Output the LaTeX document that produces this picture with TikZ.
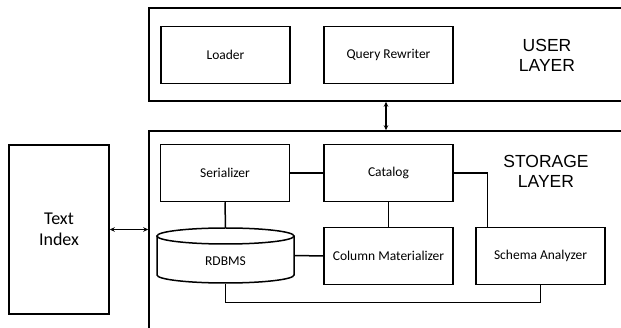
\documentclass[tikz,border=0pt]{standalone}
\usepackage{fontspec}
\setmainfont{Carlito}
\newfontfamily\layerfont{Liberation Sans}
\usetikzlibrary{arrows.meta}

\begin{document}
\begin{tikzpicture}[
    x=1pt, y=-1pt,
    line width=1.5pt,
    >={Stealth[length=5pt,width=4.5pt]},
    layer/.style={draw, inner sep=0pt},
    blk/.style={draw, inner sep=2pt, minimum width=129pt, minimum height=57pt,
                font=\fontsize{13.5}{15}\selectfont},
    lbl/.style={align=center, font=\layerfont\fontsize{17.5}{20}\selectfont},
  ]
  \clip (0,0) rectangle (621,328);

  %% ---- the two layers --------------------------------------------------
  \node[layer, minimum width=474pt, minimum height=93pt] (user)  at (386,54.5) {};
  \node[layer, minimum width=474pt, minimum height=220pt] (store) at (386,241) {};
  \node[lbl] (ul) at (547,55)  {USER\\LAYER};
  \node[lbl] (sl) at (546,171) {STORAGE\\LAYER};

  %% ---- user layer boxes ------------------------------------------------
  \node[blk] (ldr) at (225.5,55) {Loader};
  \node[blk] (qrw) at (388.5,55) {Query Rewriter};

  %% ---- storage layer boxes ---------------------------------------------
  \node[blk] (ser) at (225,173)   {Serializer};
  \node[blk] (cat) at (388.5,173) {Catalog};
  \node[blk] (col) at (388.5,256) {Column Materializer};
  \node[blk] (sch) at (540.5,256) {Schema Analyzer};
  \node[minimum width=137pt, minimum height=55pt, inner sep=0pt,
        label={[yshift=-6pt, font=\fontsize{13.5}{15}\selectfont]center:RDBMS}]
        (rdb) at (225.5,255.5) {};
  \draw (225.5,236) ellipse [x radius=68.5, y radius=8];
  \draw (157,236) -- (157,275)
        arc [start angle=180, end angle=0, x radius=68.5, y radius=8]
        -- (294,236);

  %% ---- text index ------------------------------------------------------
  \node[draw, minimum width=100pt, minimum height=169pt, align=center,
        font=\fontsize{18}{21}\selectfont] (tix) at (59,229.5) {Text\\Index};

  %% ---- connectors ------------------------------------------------------
  \draw[<->] (user.south) -- (store.north);
  \draw[<->] (tix.east) -- (tix.east -| store.west);
  \draw (ser.east) -- (cat.west);
  \draw (ser.south) -- (rdb.north);
  \draw (cat.south) -- (col.north);
  \draw (rdb.east) -- (col.west);
  \draw (cat.east) -| ([xshift=12pt]sch.north west);
  \draw (rdb.south) -- ++(0,19) -| (sch.south);

\end{tikzpicture}
\end{document}
